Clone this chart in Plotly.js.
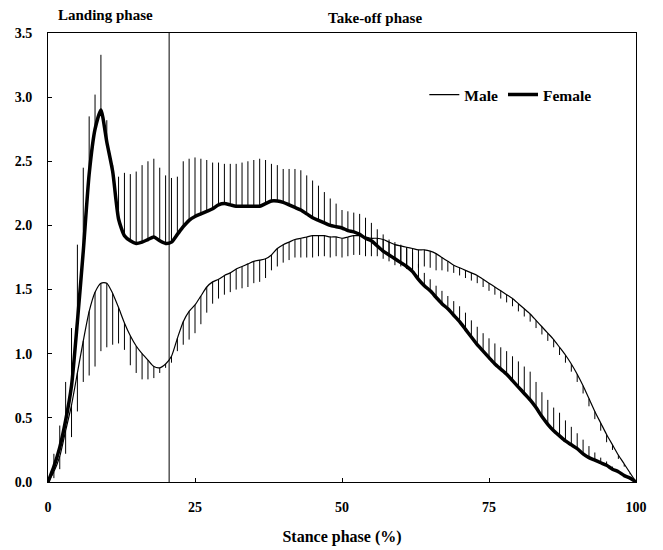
<!DOCTYPE html>
<html>
<head>
<meta charset="utf-8">
<script src="https://cdn.plot.ly/plotly-3.0.1.min.js"></script>
<style>html,body{margin:0;padding:0;background:#fff;}#chart{width:663px;height:550px;}</style>
</head>
<body>
<div id="chart"></div>
<script>
// Stance phase (%) 0..100 in 1% steps
const stance = [];
for (let i = 0; i <= 100; i++) stance.push(i);

const maleMean = [0,0.08,0.2,0.4,0.6,0.85,1.1,1.33,1.48,1.55,1.55,1.47,1.36,1.24,1.14,1.06,1.0,0.95,0.9,0.89,
  0.92,0.98,1.12,1.25,1.33,1.38,1.45,1.52,1.56,1.58,1.61,1.63,1.66,1.68,1.7,1.72,1.73,1.74,1.77,1.82,
  1.85,1.87,1.89,1.9,1.91,1.92,1.92,1.92,1.91,1.91,1.9,1.91,1.92,1.92,1.91,1.9,1.9,1.89,1.87,1.85,
  1.84,1.83,1.82,1.81,1.81,1.8,1.78,1.75,1.72,1.69,1.67,1.65,1.63,1.61,1.58,1.55,1.52,1.49,1.46,1.43,
  1.39,1.35,1.31,1.26,1.21,1.16,1.11,1.05,0.99,0.92,0.84,0.75,0.65,0.55,0.46,0.37,0.29,0.21,0.14,0.07,0];

const maleSD = [0,0.05,0.1,0.18,0.25,0.3,0.32,0.5,0.58,0.53,0.5,0.4,0.28,0.21,0.23,0.21,0.2,0.15,0.09,0.04,
  0.03,0.05,0.1,0.18,0.22,0.22,0.22,0.2,0.17,0.15,0.15,0.15,0.16,0.17,0.18,0.17,0.17,0.15,0.12,0.14,
  0.14,0.14,0.14,0.15,0.16,0.17,0.16,0.16,0.16,0.15,0.15,0.15,0.15,0.15,0.15,0.14,0.14,0.15,0.15,0.16,
  0.16,0.17,0.17,0.14,0.13,0.13,0.13,0.1,0.08,0.06,0.06,0.06,0.06,0.06,0.06,0.06,0.06,0.06,0.06,0.06,
  0.06,0.06,0.06,0.06,0.06,0.06,0.06,0.06,0.06,0.06,0.06,0.06,0.06,0.06,0.06,0.06,0.04,0.03,0.02,0.01,0];

const femaleMean = [0,0.12,0.27,0.48,0.75,1.25,1.8,2.4,2.75,2.9,2.65,2.42,2.05,1.92,1.88,1.86,1.87,1.89,1.91,1.88,
  1.86,1.87,1.93,1.99,2.04,2.07,2.09,2.11,2.13,2.16,2.17,2.16,2.15,2.15,2.15,2.15,2.15,2.17,2.19,2.19,
  2.18,2.16,2.14,2.12,2.09,2.06,2.04,2.02,2.0,1.99,1.98,1.96,1.95,1.93,1.9,1.88,1.84,1.8,1.77,1.74,
  1.71,1.68,1.64,1.58,1.53,1.49,1.44,1.39,1.35,1.3,1.25,1.19,1.13,1.07,1.02,0.97,0.92,0.88,0.84,0.79,
  0.74,0.69,0.64,0.58,0.51,0.45,0.4,0.36,0.32,0.29,0.26,0.22,0.19,0.17,0.15,0.13,0.1,0.08,0.05,0.03,0];

const femaleSD = [0,0.1,0.17,0.3,0.45,0.6,0.65,0.45,0.27,0.43,0.17,0.05,0.33,0.49,0.52,0.56,0.6,0.61,0.61,0.57,
  0.53,0.5,0.45,0.51,0.48,0.46,0.43,0.4,0.36,0.33,0.31,0.32,0.33,0.34,0.35,0.36,0.37,0.34,0.29,0.28,
  0.26,0.28,0.3,0.31,0.3,0.29,0.27,0.24,0.21,0.18,0.14,0.15,0.15,0.16,0.16,0.14,0.13,0.13,0.12,0.13,
  0.14,0.15,0.15,0.12,0.1,0.09,0.09,0.1,0.1,0.11,0.12,0.13,0.13,0.14,0.14,0.15,0.16,0.17,0.18,0.19,
  0.2,0.21,0.22,0.2,0.19,0.19,0.18,0.18,0.16,0.14,0.12,0.11,0.09,0.06,0.04,0.03,0.02,0.01,0,0,0];

const zeros = stance.map(() => 0);
const xTicks = [0,25,50,75,100];
const phaseBoundary = 20.6;

const serif = "'Liberation Serif', 'Times New Roman', serif";

const traces = [
  {
    x: stance, y: maleMean, name: 'Male', mode: 'lines', type: 'scatter',
    line: {color: '#000', width: 1.2, shape: 'spline', smoothing: 0.6},
    error_y: {type: 'data', symmetric: false, array: zeros, arrayminus: maleSD,
              color: '#000', thickness: 1, width: 0}
  },
  {
    x: stance, y: femaleMean, name: 'Female', mode: 'lines', type: 'scatter',
    line: {color: '#000', width: 3.5, shape: 'spline', smoothing: 0.6},
    error_y: {type: 'data', symmetric: false, array: femaleSD, arrayminus: zeros,
              color: '#000', thickness: 1, width: 0}
  }
];

const layout = {
  width: 663, height: 550,
  margin: {l: 47.5, r: 27, t: 33, b: 68},
  paper_bgcolor: '#fff', plot_bgcolor: '#fff',
  font: {family: serif, color: '#000', size: 14, weight: 'bold'},
  showlegend: true,
  legend: {orientation: 'h', x: 0.64, y: 0.862, xanchor: 'left', yanchor: 'middle',
           font: {family: serif, size: 15.5, weight: 'bold', color: '#000'},
           itemwidth: 30, bgcolor: 'rgba(0,0,0,0)', tracegroupgap: 0},
  xaxis: {
    range: [0, 100], tickvals: xTicks, ticktext: xTicks.map(String),
    ticks: 'inside', ticklen: 4, tickcolor: '#000',
    showline: true, linecolor: '#000', linewidth: 1, mirror: true,
    showgrid: false, zeroline: false, ticklabelstandoff: 12,
    tickfont: {family: serif, size: 14, weight: 'bold', color: '#000'},
    title: {text: 'Stance phase (%)', font: {family: serif, size: 16, weight: 'bold', color: '#000'}, standoff: 17}
  },
  yaxis: {
    range: [0, 3.5], dtick: 0.5, tick0: 0, tickformat: '.1f',
    ticks: 'inside', ticklen: 4, tickcolor: '#000',
    showline: true, linecolor: '#000', linewidth: 1, mirror: true,
    showgrid: false, zeroline: false, ticklabelstandoff: 12,
    tickfont: {family: serif, size: 14, weight: 'bold', color: '#000'}
  },
  shapes: [
    {type: 'line', xref: 'x', yref: 'paper', x0: phaseBoundary, x1: phaseBoundary, y0: 0, y1: 1,
     line: {color: '#000', width: 1}}
  ],
  annotations: [
    {text: 'Landing phase', xref: 'x', yref: 'paper', x: 9.8, y: 1, yshift: 18, showarrow: false,
     xanchor: 'center', yanchor: 'middle', font: {family: serif, size: 15, weight: 'bold', color: '#000'}},
    {text: 'Take-off phase', xref: 'x', yref: 'paper', x: 55.6, y: 1, yshift: 15, showarrow: false,
     xanchor: 'center', yanchor: 'middle', font: {family: serif, size: 15, weight: 'bold', color: '#000'}}
  ]
};

Plotly.newPlot('chart', traces, layout, {displayModeBar: false, staticPlot: true});
</script>
</body>
</html>
